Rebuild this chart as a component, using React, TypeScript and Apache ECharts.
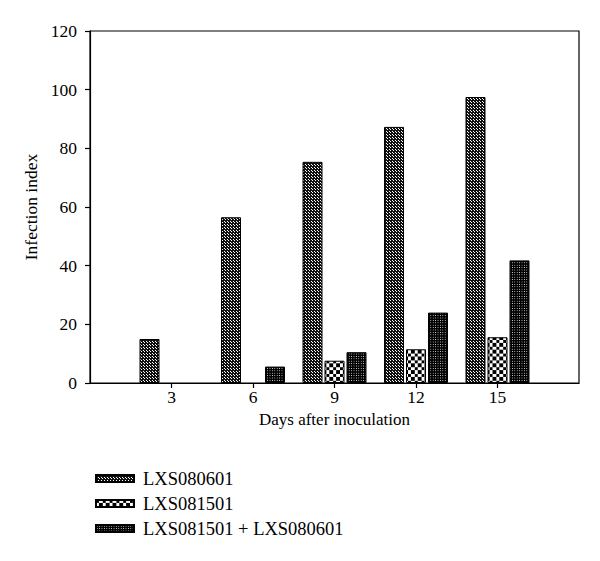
import React, { useEffect, useRef } from "react";
import * as echarts from "echarts";

const categories = ["0", "3", "6", "9", "12", "15", "18"];
const seriesNames = ["LXS080601", "LXS081501", "LXS081501 + LXS080601"];
const lxs080601 = [null, 15, 56.5, 75.4, 87.3, 97.5, null];
const lxs081501 = [null, null, null, 7.6, 11.5, 15.6, null];
const combined = [null, null, 5.6, 10.5, 24, 41.8, null];
const yTicks = { min: 0, max: 120, interval: 20 };

const FONT = "'Liberation Serif', 'Times New Roman', serif";

function svgUri(w: number, h: number, body: string) {
  const svg = `<svg xmlns='http://www.w3.org/2000/svg' width='${w}' height='${h}' viewBox='0 0 ${w} ${h}' shape-rendering='crispEdges'>${body}</svg>`;
  return "data:image/svg+xml;charset=utf-8," + encodeURIComponent(svg);
}

function makePattern(w: number, h: number, body: string) {
  return {
    image: svgUri(w, h, body),
    repeat: "repeat",
    imageWidth: w,
    imageHeight: h,
  } as any;
}

const pat1 = makePattern(
  3,
  3,
  "<rect width='3' height='3' fill='#111'/><rect x='0.3' y='0.3' width='1.05' height='1.05' fill='#fff'/><rect x='1.8' y='1.8' width='1.05' height='1.05' fill='#fff'/>"
);
const pat2 = makePattern(
  6.8,
  6.8,
  "<rect width='6.8' height='6.8' fill='#fff'/><rect x='0' y='0' width='3.4' height='3.4' fill='#000'/><rect x='3.4' y='3.4' width='3.4' height='3.4' fill='#000'/>"
);
const pat3 = makePattern(
  2.4,
  2.4,
  "<rect width='2.4' height='2.4' fill='#000'/><rect x='0.8' y='0.8' width='0.9' height='0.9' fill='#fff'/>"
);

export default function App() {
  const ref = useRef<HTMLDivElement>(null);
  useEffect(() => {
    if (!ref.current) return;
    const chart = echarts.init(ref.current, null, { renderer: "svg" });
    const mkSeries = (name: string, data: any[], color: any) => ({
      name,
      type: "bar",
      data,
      barWidth: 20,
      barGap: "10%",
      itemStyle: { color, borderColor: "#000", borderWidth: 1 },
    });
    chart.setOption({
      animation: false,
      backgroundColor: "#fff",
      textStyle: { fontFamily: FONT },
      grid: {
        left: 90,
        right: 21,
        top: 31,
        bottom: 178,
        show: true,
        borderColor: "#000",
        borderWidth: 1.2,
        backgroundColor: "transparent",
      },
      legend: {
        orient: "vertical",
        left: 90,
        top: 464,
        itemWidth: 38,
        itemHeight: 7,
        itemGap: 6,
        icon: "rect",
        data: seriesNames,
        textStyle: { fontFamily: FONT, fontSize: 18.5, color: "#000", padding: [0, 0, 0, 4] },
      },
      xAxis: {
        type: "category",
        data: categories,
        boundaryGap: false,
        name: "Days after inoculation",
        nameLocation: "middle",
        nameGap: 19,
        nameTextStyle: { fontFamily: FONT, fontSize: 17, color: "#000" },
        axisLine: { lineStyle: { color: "#000", width: 1.2 } },
        axisTick: {
          length: 5,
          interval: (i: number) => i > 0 && i < categories.length - 1,
          lineStyle: { color: "#000", width: 1.2 },
        },
        axisLabel: {
          interval: 0,
          margin: 5,
          fontFamily: FONT,
          fontSize: 17.5,
          color: "#000",
          formatter: (v: string, i: number) => (i > 0 && i < categories.length - 1 ? v : ""),
        },
        splitLine: { show: false },
      },
      yAxis: {
        type: "value",
        min: yTicks.min,
        max: yTicks.max,
        interval: yTicks.interval,
        name: "Infection index",
        nameLocation: "middle",
        nameGap: 48,
        nameTextStyle: { fontFamily: FONT, fontSize: 17.5, color: "#000" },
        axisLine: { show: true, lineStyle: { color: "#000", width: 1.2 } },
        axisTick: { show: true, length: 5, lineStyle: { color: "#000", width: 1.2 } },
        axisLabel: { margin: 13, fontFamily: FONT, fontSize: 17.5, color: "#000" },
        splitLine: { show: false },
      },
      series: [
        mkSeries(seriesNames[0], lxs080601, pat1),
        mkSeries(seriesNames[1], lxs081501, pat2),
        mkSeries(seriesNames[2], combined, pat3),
      ],
    });
    return () => chart.dispose();
  }, []);
  return (
    <div
      ref={ref}
      style={{ position: "absolute", left: 0, top: 0, width: 600, height: 561 }}
    />
  );
}
